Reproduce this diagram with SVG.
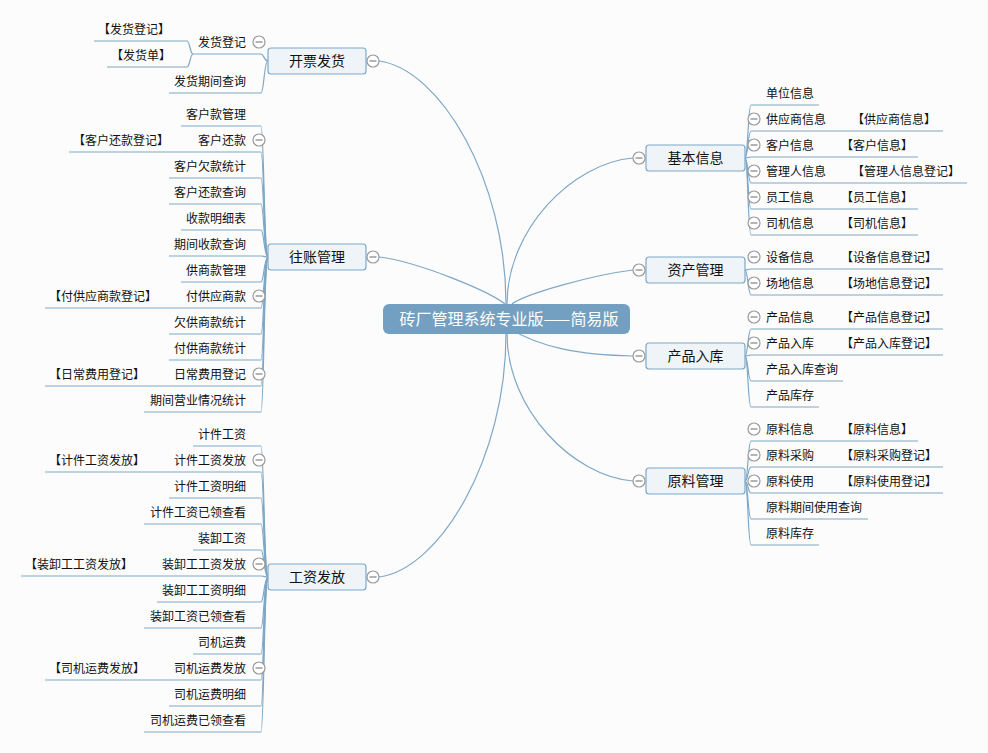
<svg xmlns="http://www.w3.org/2000/svg" xmlns:xlink="http://www.w3.org/1999/xlink" width="988" height="753" viewBox="0 0 988 753">
<style>
.ln{fill:none;stroke:#7ea7c6;stroke-width:1.2}
.t{font-family:"Noto Sans CJK SC","Noto Sans CJK JP",sans-serif;font-size:12px;fill:#111}
.e{text-anchor:end}
.mt{font-size:14px;text-anchor:middle}
.box{fill:#eef4f8;stroke:#7ea7c6;stroke-width:1.2}
.ctr{fill:#73a0c1}
.ct{font-size:16px;fill:#fff;text-anchor:middle}
</style>
<defs>
<g id="minus"><circle cx="0" cy="0" r="6" fill="#fff" stroke="#9a9a9a" stroke-width="1.2"/><line x1="-3.5" y1="0" x2="3.5" y2="0" stroke="#777" stroke-width="1.1"/></g>
</defs>
<rect width="988" height="753" fill="#fcfcfc"/>
<g id="connectors" class="ln">
<path d="M379 61 C440 69 506 180 506 304"/>
<path d="M379 257 C420 262 490 292 505 304"/>
<path d="M379 577 C440 569 506 458 506 334"/>
<path d="M633 158 C572.5 163 507 229.5 507 304"/>
<path d="M633 270 C592 275 525 294 512 304"/>
<path d="M633 356 C580 355 540 348 505 326"/>
<path d="M633 481 C572.5 476 507 409 507 334"/>
<path d="M268 61 C264 61 264 54 261 54"/>
<path d="M268 61 C264 61 264 93 261 93"/>
<path d="M193 54 C190 54 190 41 187 41"/>
<path d="M193 54 C190 54 190 67 187 67"/>
<path d="M268 257 C264 257 264 126 261 126"/>
<path d="M268 257 C264 257 264 152 261 152"/>
<path d="M268 257 C264 257 264 178 261 178"/>
<path d="M268 257 C264 257 264 204 261 204"/>
<path d="M268 257 C264 257 264 230 261 230"/>
<path d="M268 257 C264 257 264 256 261 256"/>
<path d="M268 257 C264 257 264 282 261 282"/>
<path d="M268 257 C264 257 264 308 261 308"/>
<path d="M268 257 C264 257 264 334 261 334"/>
<path d="M268 257 C264 257 264 360 261 360"/>
<path d="M268 257 C264 257 264 386 261 386"/>
<path d="M268 257 C264 257 264 412 261 412"/>
<path d="M268 577 C264 577 264 446 261 446"/>
<path d="M268 577 C264 577 264 472 261 472"/>
<path d="M268 577 C264 577 264 498 261 498"/>
<path d="M268 577 C264 577 264 524 261 524"/>
<path d="M268 577 C264 577 264 550 261 550"/>
<path d="M268 577 C264 577 264 576 261 576"/>
<path d="M268 577 C264 577 264 602 261 602"/>
<path d="M268 577 C264 577 264 628 261 628"/>
<path d="M268 577 C264 577 264 654 261 654"/>
<path d="M268 577 C264 577 264 680 261 680"/>
<path d="M268 577 C264 577 264 706 261 706"/>
<path d="M268 577 C264 577 264 732 261 732"/>
<path d="M745 158 C748 158 748 105 751 105"/>
<path d="M745 158 C748 158 748 131 751 131"/>
<path d="M745 158 C748 158 748 157 751 157"/>
<path d="M745 158 C748 158 748 183 751 183"/>
<path d="M745 158 C748 158 748 209 751 209"/>
<path d="M745 158 C748 158 748 235 751 235"/>
<path d="M745 270 C748 270 748 269 751 269"/>
<path d="M745 270 C748 270 748 295 751 295"/>
<path d="M745 356 C748 356 748 329 751 329"/>
<path d="M745 356 C748 356 748 355 751 355"/>
<path d="M745 356 C748 356 748 381 751 381"/>
<path d="M745 356 C748 356 748 407 751 407"/>
<path d="M745 481 C748 481 748 441 751 441"/>
<path d="M745 481 C748 481 748 467 751 467"/>
<path d="M745 481 C748 481 748 493 751 493"/>
<path d="M745 481 C748 481 748 519 751 519"/>
<path d="M745 481 C748 481 748 545 751 545"/>
</g>

<g id="root"><rect class="ctr" x="383" y="304" width="247" height="30" rx="6"/><text class="t ct" x="509" y="325">砖厂管理系统专业版——简易版</text></g>

<g id="n-kaipiao"><rect class="box" x="268" y="48" width="98" height="26" rx="3"/><text class="t mt" x="317" y="66.3">开票发货</text><use xlink:href="#minus" x="373" y="61"/></g>
<g id="n-wangzhang"><rect class="box" x="268" y="244" width="98" height="26" rx="3"/><text class="t mt" x="317" y="262.3">往账管理</text><use xlink:href="#minus" x="373" y="257"/></g>
<g id="n-gongzi"><rect class="box" x="268" y="564" width="98" height="26" rx="3"/><text class="t mt" x="317" y="582.3">工资发放</text><use xlink:href="#minus" x="373" y="577"/></g>
<g id="n-jiben"><rect class="box" x="646" y="145" width="99" height="26" rx="3"/><text class="t mt" x="695.5" y="163.3">基本信息</text><use xlink:href="#minus" x="639" y="158"/></g>
<g id="n-zichan"><rect class="box" x="646" y="257" width="99" height="26" rx="3"/><text class="t mt" x="695.5" y="275.3">资产管理</text><use xlink:href="#minus" x="639" y="270"/></g>
<g id="n-chanpin"><rect class="box" x="646" y="343" width="99" height="26" rx="3"/><text class="t mt" x="695.5" y="361.3">产品入库</text><use xlink:href="#minus" x="639" y="356"/></g>
<g id="n-yuanliao"><rect class="box" x="646" y="468" width="99" height="26" rx="3"/><text class="t mt" x="695.5" y="486.3">原料管理</text><use xlink:href="#minus" x="639" y="481"/></g>

<!-- 开票发货 children -->
<g id="c-fhdj"><line class="ln" x1="193" y1="54" x2="261" y2="54"/><text class="t e" x="246" y="46.5">发货登记</text><use xlink:href="#minus" x="259" y="42"/></g>
<g id="g-fhdj"><line class="ln" x1="94" y1="41" x2="187" y2="41"/><text class="t" x="98" y="33.5">【发货登记】</text></g>
<g id="g-fhd"><line class="ln" x1="107" y1="67" x2="187" y2="67"/><text class="t" x="111" y="59.5">【发货单】</text></g>
<g id="c-fhqjcx"><line class="ln" x1="169" y1="93" x2="261" y2="93"/><text class="t e" x="246" y="85.5">发货期间查询</text></g>

<!-- 往账管理 children -->
<g id="c-khkgl"><line class="ln" x1="181" y1="126" x2="261" y2="126"/><text class="t e" x="246" y="118.5">客户款管理</text></g>
<g id="c-khhk"><line class="ln" x1="193" y1="152" x2="261" y2="152"/><text class="t e" x="246" y="144.5">客户还款</text><use xlink:href="#minus" x="259" y="140"/></g>
<g id="g-khhkdj"><line class="ln" x1="69" y1="152" x2="193" y2="152"/><text class="t" x="73" y="144.5">【客户还款登记】</text></g>
<g id="c-khqktj"><line class="ln" x1="169" y1="178" x2="261" y2="178"/><text class="t e" x="246" y="170.5">客户欠款统计</text></g>
<g id="c-khhkcx"><line class="ln" x1="169" y1="204" x2="261" y2="204"/><text class="t e" x="246" y="196.5">客户还款查询</text></g>
<g id="c-skmxb"><line class="ln" x1="181" y1="230" x2="261" y2="230"/><text class="t e" x="246" y="222.5">收款明细表</text></g>
<g id="c-qjskcx"><line class="ln" x1="169" y1="256" x2="261" y2="256"/><text class="t e" x="246" y="248.5">期间收款查询</text></g>
<g id="c-gskgl"><line class="ln" x1="181" y1="282" x2="261" y2="282"/><text class="t e" x="246" y="274.5">供商款管理</text></g>
<g id="c-fgysk"><line class="ln" x1="181" y1="308" x2="261" y2="308"/><text class="t e" x="246" y="300.5">付供应商款</text><use xlink:href="#minus" x="259" y="296"/></g>
<g id="g-fgyskdj"><line class="ln" x1="45" y1="308" x2="181" y2="308"/><text class="t" x="49" y="300.5">【付供应商款登记】</text></g>
<g id="c-qgsktj"><line class="ln" x1="169" y1="334" x2="261" y2="334"/><text class="t e" x="246" y="326.5">欠供商款统计</text></g>
<g id="c-fgsktj"><line class="ln" x1="169" y1="360" x2="261" y2="360"/><text class="t e" x="246" y="352.5">付供商款统计</text></g>
<g id="c-rcfydj"><line class="ln" x1="169" y1="386" x2="261" y2="386"/><text class="t e" x="246" y="378.5">日常费用登记</text><use xlink:href="#minus" x="259" y="374"/></g>
<g id="g-rcfydj"><line class="ln" x1="45" y1="386" x2="169" y2="386"/><text class="t" x="49" y="378.5">【日常费用登记】</text></g>
<g id="c-qjyyqktj"><line class="ln" x1="144" y1="412" x2="261" y2="412"/><text class="t e" x="246" y="404.5">期间营业情况统计</text></g>

<!-- 工资发放 children -->
<g id="c-jjgz"><line class="ln" x1="193" y1="446" x2="261" y2="446"/><text class="t e" x="246" y="438.5">计件工资</text></g>
<g id="c-jjgzff"><line class="ln" x1="169" y1="472" x2="261" y2="472"/><text class="t e" x="246" y="464.5">计件工资发放</text><use xlink:href="#minus" x="259" y="460"/></g>
<g id="g-jjgzff"><line class="ln" x1="45" y1="472" x2="169" y2="472"/><text class="t" x="49" y="464.5">【计件工资发放】</text></g>
<g id="c-jjgzmx"><line class="ln" x1="169" y1="498" x2="261" y2="498"/><text class="t e" x="246" y="490.5">计件工资明细</text></g>
<g id="c-jjgzylck"><line class="ln" x1="144" y1="524" x2="261" y2="524"/><text class="t e" x="246" y="516.5">计件工资已领查看</text></g>
<g id="c-zxgz"><line class="ln" x1="193" y1="550" x2="261" y2="550"/><text class="t e" x="246" y="542.5">装卸工资</text></g>
<g id="c-zxggzff"><line class="ln" x1="157" y1="576" x2="261" y2="576"/><text class="t e" x="246" y="568.5">装卸工工资发放</text><use xlink:href="#minus" x="259" y="564"/></g>
<g id="g-zxggzff"><line class="ln" x1="21" y1="576" x2="157" y2="576"/><text class="t" x="25" y="568.5">【装卸工工资发放】</text></g>
<g id="c-zxggzmx"><line class="ln" x1="157" y1="602" x2="261" y2="602"/><text class="t e" x="246" y="594.5">装卸工工资明细</text></g>
<g id="c-zxgzylck"><line class="ln" x1="144" y1="628" x2="261" y2="628"/><text class="t e" x="246" y="620.5">装卸工资已领查看</text></g>
<g id="c-sjyf"><line class="ln" x1="193" y1="654" x2="261" y2="654"/><text class="t e" x="246" y="646.5">司机运费</text></g>
<g id="c-sjyfff"><line class="ln" x1="169" y1="680" x2="261" y2="680"/><text class="t e" x="246" y="672.5">司机运费发放</text><use xlink:href="#minus" x="259" y="668"/></g>
<g id="g-sjyfff"><line class="ln" x1="45" y1="680" x2="169" y2="680"/><text class="t" x="49" y="672.5">【司机运费发放】</text></g>
<g id="c-sjyfmx"><line class="ln" x1="169" y1="706" x2="261" y2="706"/><text class="t e" x="246" y="698.5">司机运费明细</text></g>
<g id="c-sjyfylck"><line class="ln" x1="144" y1="732" x2="261" y2="732"/><text class="t e" x="246" y="724.5">司机运费已领查看</text></g>

<!-- 基本信息 children -->
<g id="c-dwxx"><line class="ln" x1="751" y1="105" x2="819" y2="105"/><text class="t" x="766" y="97.5">单位信息</text></g>
<g id="c-gysxx"><line class="ln" x1="751" y1="131" x2="831" y2="131"/><text class="t" x="766" y="123.5">供应商信息</text><use xlink:href="#minus" x="754" y="119"/></g>
<g id="g-gysxx"><line class="ln" x1="831" y1="131" x2="943" y2="131"/><text class="t" x="852" y="123.5">【供应商信息】</text></g>
<g id="c-khxx"><line class="ln" x1="751" y1="157" x2="819" y2="157"/><text class="t" x="766" y="149.5">客户信息</text><use xlink:href="#minus" x="754" y="145"/></g>
<g id="g-khxx"><line class="ln" x1="819" y1="157" x2="918" y2="157"/><text class="t" x="841" y="149.5">【客户信息】</text></g>
<g id="c-glrxx"><line class="ln" x1="751" y1="183" x2="831" y2="183"/><text class="t" x="766" y="175.5">管理人信息</text><use xlink:href="#minus" x="754" y="171"/></g>
<g id="g-glrxx"><line class="ln" x1="831" y1="183" x2="967" y2="183"/><text class="t" x="852" y="175.5">【管理人信息登记】</text></g>
<g id="c-ygxx"><line class="ln" x1="751" y1="209" x2="819" y2="209"/><text class="t" x="766" y="201.5">员工信息</text><use xlink:href="#minus" x="754" y="197"/></g>
<g id="g-ygxx"><line class="ln" x1="819" y1="209" x2="918" y2="209"/><text class="t" x="841" y="201.5">【员工信息】</text></g>
<g id="c-sjxx"><line class="ln" x1="751" y1="235" x2="819" y2="235"/><text class="t" x="766" y="227.5">司机信息</text><use xlink:href="#minus" x="754" y="223"/></g>
<g id="g-sjxx"><line class="ln" x1="819" y1="235" x2="918" y2="235"/><text class="t" x="841" y="227.5">【司机信息】</text></g>

<!-- 资产管理 children -->
<g id="c-sbxx"><line class="ln" x1="751" y1="269" x2="819" y2="269"/><text class="t" x="766" y="261.5">设备信息</text><use xlink:href="#minus" x="754" y="257"/></g>
<g id="g-sbxx"><line class="ln" x1="819" y1="269" x2="943" y2="269"/><text class="t" x="841" y="261.5">【设备信息登记】</text></g>
<g id="c-cdxx"><line class="ln" x1="751" y1="295" x2="819" y2="295"/><text class="t" x="766" y="287.5">场地信息</text><use xlink:href="#minus" x="754" y="283"/></g>
<g id="g-cdxx"><line class="ln" x1="819" y1="295" x2="943" y2="295"/><text class="t" x="841" y="287.5">【场地信息登记】</text></g>

<!-- 产品入库 children -->
<g id="c-cpxx"><line class="ln" x1="751" y1="329" x2="819" y2="329"/><text class="t" x="766" y="321.5">产品信息</text><use xlink:href="#minus" x="754" y="317"/></g>
<g id="g-cpxx"><line class="ln" x1="819" y1="329" x2="943" y2="329"/><text class="t" x="841" y="321.5">【产品信息登记】</text></g>
<g id="c-cprk"><line class="ln" x1="751" y1="355" x2="819" y2="355"/><text class="t" x="766" y="347.5">产品入库</text><use xlink:href="#minus" x="754" y="343"/></g>
<g id="g-cprk"><line class="ln" x1="819" y1="355" x2="943" y2="355"/><text class="t" x="841" y="347.5">【产品入库登记】</text></g>
<g id="c-cprkcx"><line class="ln" x1="751" y1="381" x2="843" y2="381"/><text class="t" x="766" y="373.5">产品入库查询</text></g>
<g id="c-cpkc"><line class="ln" x1="751" y1="407" x2="819" y2="407"/><text class="t" x="766" y="399.5">产品库存</text></g>

<!-- 原料管理 children -->
<g id="c-ylxx"><line class="ln" x1="751" y1="441" x2="819" y2="441"/><text class="t" x="766" y="433.5">原料信息</text><use xlink:href="#minus" x="754" y="429"/></g>
<g id="g-ylxx"><line class="ln" x1="819" y1="441" x2="918" y2="441"/><text class="t" x="841" y="433.5">【原料信息】</text></g>
<g id="c-ylcg"><line class="ln" x1="751" y1="467" x2="819" y2="467"/><text class="t" x="766" y="459.5">原料采购</text><use xlink:href="#minus" x="754" y="455"/></g>
<g id="g-ylcg"><line class="ln" x1="819" y1="467" x2="943" y2="467"/><text class="t" x="841" y="459.5">【原料采购登记】</text></g>
<g id="c-ylsy"><line class="ln" x1="751" y1="493" x2="819" y2="493"/><text class="t" x="766" y="485.5">原料使用</text><use xlink:href="#minus" x="754" y="481"/></g>
<g id="g-ylsy"><line class="ln" x1="819" y1="493" x2="943" y2="493"/><text class="t" x="841" y="485.5">【原料使用登记】</text></g>
<g id="c-ylqjsycx"><line class="ln" x1="751" y1="519" x2="868" y2="519"/><text class="t" x="766" y="511.5">原料期间使用查询</text></g>
<g id="c-ylkc"><line class="ln" x1="751" y1="545" x2="819" y2="545"/><text class="t" x="766" y="537.5">原料库存</text></g>
</svg>
